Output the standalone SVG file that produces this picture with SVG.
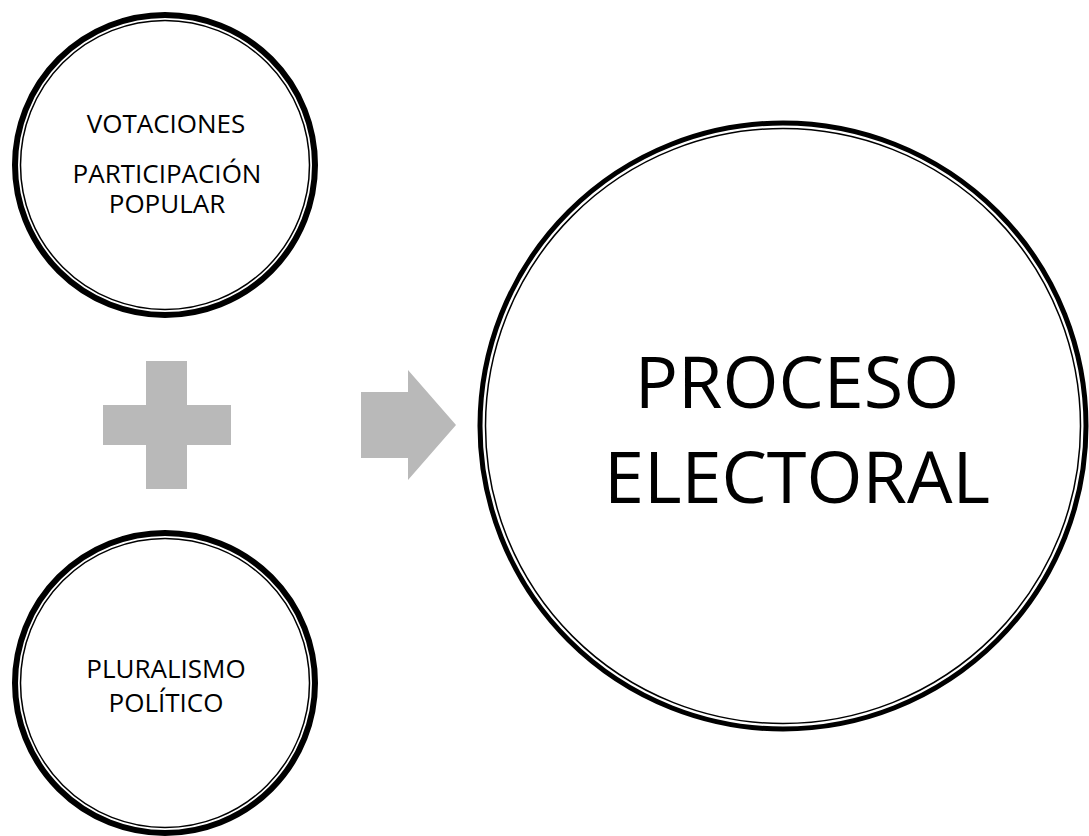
<svg xmlns="http://www.w3.org/2000/svg" width="1089" height="836" viewBox="0 0 1089 836">
<style>
.outer{fill:#fff;stroke:#000;stroke-width:6}
.inner{fill:none;stroke:#000;stroke-width:1.5}
.t{font-family:"Open Sans","Liberation Sans",sans-serif;fill:#000;text-anchor:middle}
.s{font-size:26px}
.b{font-size:72px}
.g{fill:#b9b9b9}
</style>
<rect width="1089" height="836" fill="#fff"/>
<g id="node-votaciones">
<circle class="outer" cx="165" cy="165" r="150"/>
<circle class="inner" cx="165" cy="165" r="144.5"/>
<text class="t s" x="166" y="133">VOTACIONES</text>
<text class="t s" x="167" y="183">PARTICIPACIÓN</text>
<text class="t s" x="167" y="213">POPULAR</text>
</g>
<g id="node-pluralismo">
<circle class="outer" cx="165" cy="683" r="150"/>
<circle class="inner" cx="165" cy="683" r="144.5"/>
<text class="t s" x="166" y="678">PLURALISMO</text>
<text class="t s" x="166" y="712">POLÍTICO</text>
</g>
<g id="node-proceso">
<circle class="outer" cx="783" cy="426" r="303" style="stroke-width:5"/>
<circle class="inner" cx="783" cy="426" r="297.5"/>
<text class="t b" x="797" y="408">PROCESO</text>
<text class="t b" x="797" y="503">ELECTORAL</text>
</g>
<g id="connectors">
<path id="plus" class="g" d="M146 361H187V405H231V445H187V489H146V445H103V405H146Z"/>
<path id="arrow" class="g" d="M361 392H408V370L456 425L408 480V458H361Z"/>
</g>
</svg>
